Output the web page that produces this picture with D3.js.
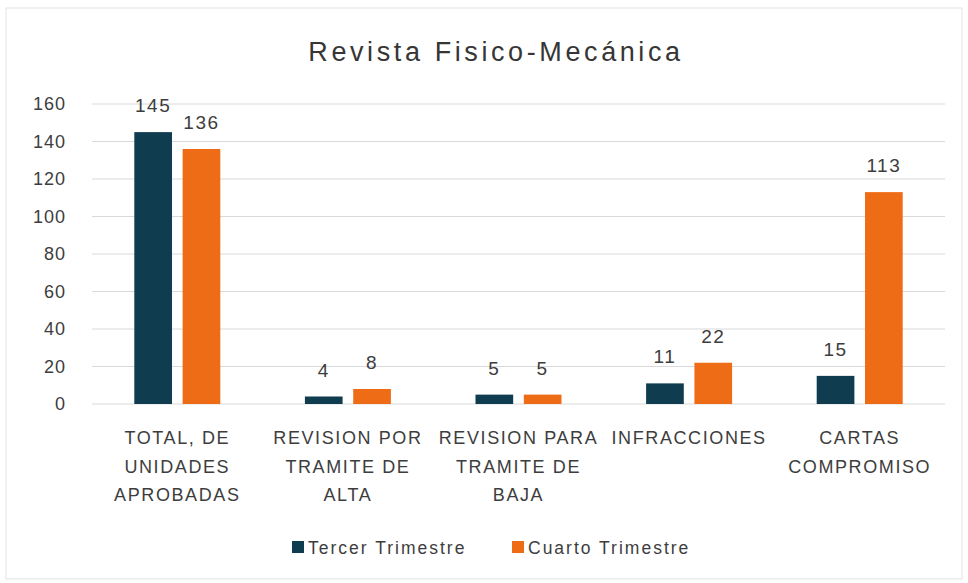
<!DOCTYPE html>
<html>
<head>
<meta charset="utf-8">
<script src="https://cdn.jsdelivr.net/npm/d3@7"></script>
<style>
  body { margin: 0; background: #fff; }
  svg { display: block; }
</style>
</head>
<body>
<div id="chart"></div>
<script>
// Data
var categories = ['TOTAL, DE UNIDADES APROBADAS', 'REVISION POR TRAMITE DE ALTA', 'REVISION PARA TRAMITE DE BAJA', 'INFRACCIONES', 'CARTAS COMPROMISO'];
var categoryLines = [
  ['TOTAL, DE', 'UNIDADES', 'APROBADAS'],
  ['REVISION POR', 'TRAMITE DE', 'ALTA'],
  ['REVISION PARA', 'TRAMITE DE', 'BAJA'],
  ['INFRACCIONES'],
  ['CARTAS', 'COMPROMISO']
];
var seriesNames = ['Tercer Trimestre', 'Cuarto Trimestre'];
var tercerTrimestre = [145, 4, 5, 11, 15];
var cuartoTrimestre = [136, 8, 5, 22, 113];
var yTicks = [0, 20, 40, 60, 80, 100, 120, 140, 160];

var attrs = {
  svgWidth: 968,
  svgHeight: 583,
  marginLeft: 92,
  marginRight: 23,
  marginTop: 104,
  plotHeight: 300,
  colors: ['#0f3c4e', '#ee6c15'],
  textFill: '#3d3d3d',
  gridColor: '#d9d9d9',
  font: '"Liberation Sans", Arial, sans-serif'
};

var chartWidth = attrs.svgWidth - attrs.marginLeft - attrs.marginRight;

var svg = d3.select('#chart').append('svg')
  .attr('width', attrs.svgWidth)
  .attr('height', attrs.svgHeight)
  .attr('font-family', attrs.font);

// outer frame
svg.append('rect')
  .attr('x', 6).attr('y', 8)
  .attr('width', attrs.svgWidth - 12).attr('height', attrs.svgHeight - 12)
  .attr('fill', '#fff')
  .attr('stroke', '#e3e3de');

// title
svg.append('text')
  .attr('x', 496).attr('y', 61)
  .attr('text-anchor', 'middle')
  .attr('font-size', 27)
  .attr('letter-spacing', 3.6)
  .attr('fill', '#363636')
  .text('Revista Fisico-Mecánica');

var chart = svg.append('g')
  .attr('transform', 'translate(' + attrs.marginLeft + ',' + attrs.marginTop + ')');

// scales
var x0 = d3.scaleBand().domain(categories).range([0, chartWidth]);
var x1 = d3.scaleBand().domain(seriesNames).range([0, 86]).paddingInner(0.22);
var y = d3.scaleLinear().domain([0, 160]).range([attrs.plotHeight, 0]);

// grid
chart.append('g').selectAll('line').data(yTicks).join('line')
  .attr('x1', 0).attr('x2', chartWidth)
  .attr('y1', d => y(d)).attr('y2', d => y(d))
  .attr('stroke', attrs.gridColor)
  .attr('stroke-width', 1);

// y axis labels
var yAxis = chart.append('g')
  .call(d3.axisLeft(y).tickValues(yTicks).tickSize(0).tickPadding(26));
yAxis.select('.domain').remove();
yAxis.selectAll('text')
  .attr('font-size', 18)
  .attr('letter-spacing', 1)
  .attr('font-family', attrs.font)
  .attr('fill', attrs.textFill);

// bars
var rows = categories.map((c, i) => ({ cat: c, vals: [tercerTrimestre[i], cuartoTrimestre[i]] }));
var groups = chart.append('g').selectAll('g').data(rows).join('g')
  .attr('transform', d => 'translate(' + (x0(d.cat) + x0.bandwidth() / 2 - 43) + ',0)');

var bars = groups.selectAll('g').data(d => d.vals.map((v, j) => ({ s: seriesNames[j], v: v, j: j }))).join('g');

bars.append('rect')
  .attr('x', d => x1(d.s))
  .attr('width', x1.bandwidth())
  .attr('y', d => y(d.v))
  .attr('height', d => y(0) - y(d.v))
  .attr('fill', d => attrs.colors[d.j]);

bars.append('text')
  .attr('x', d => x1(d.s) + x1.bandwidth() / 2)
  .attr('y', d => y(d.v) - 20)
  .attr('text-anchor', 'middle')
  .attr('font-size', 19)
  .attr('letter-spacing', 1.5)
  .attr('fill', attrs.textFill)
  .text(d => d.v);

// category labels
var xLabels = chart.append('g').selectAll('text').data(categories).join('text')
  .attr('x', d => x0(d) + x0.bandwidth() / 2)
  .attr('y', attrs.plotHeight + 40)
  .attr('text-anchor', 'middle')
  .attr('font-size', 18)
  .attr('letter-spacing', 1.6)
  .attr('fill', attrs.textFill);

xLabels.selectAll('tspan').data((d, i) => categoryLines[i]).join('tspan')
  .attr('x', function () { return d3.select(this.parentNode).attr('x'); })
  .attr('dy', (d, i) => i === 0 ? 0 : 28.5)
  .text(d => d);

// legend
var legend = svg.append('g').attr('transform', 'translate(292,547)');
var legendX = [0, 220];
var item = legend.selectAll('g').data(seriesNames).join('g')
  .attr('transform', (d, i) => 'translate(' + legendX[i] + ',0)');
item.append('rect')
  .attr('x', 0).attr('y', -6)
  .attr('width', 12).attr('height', 12)
  .attr('fill', (d, i) => attrs.colors[i]);
item.append('text')
  .attr('x', 16).attr('y', 6.5)
  .attr('font-size', 17.5)
  .attr('letter-spacing', 2)
  .attr('fill', attrs.textFill)
  .text(d => d);
</script>
</body>
</html>
